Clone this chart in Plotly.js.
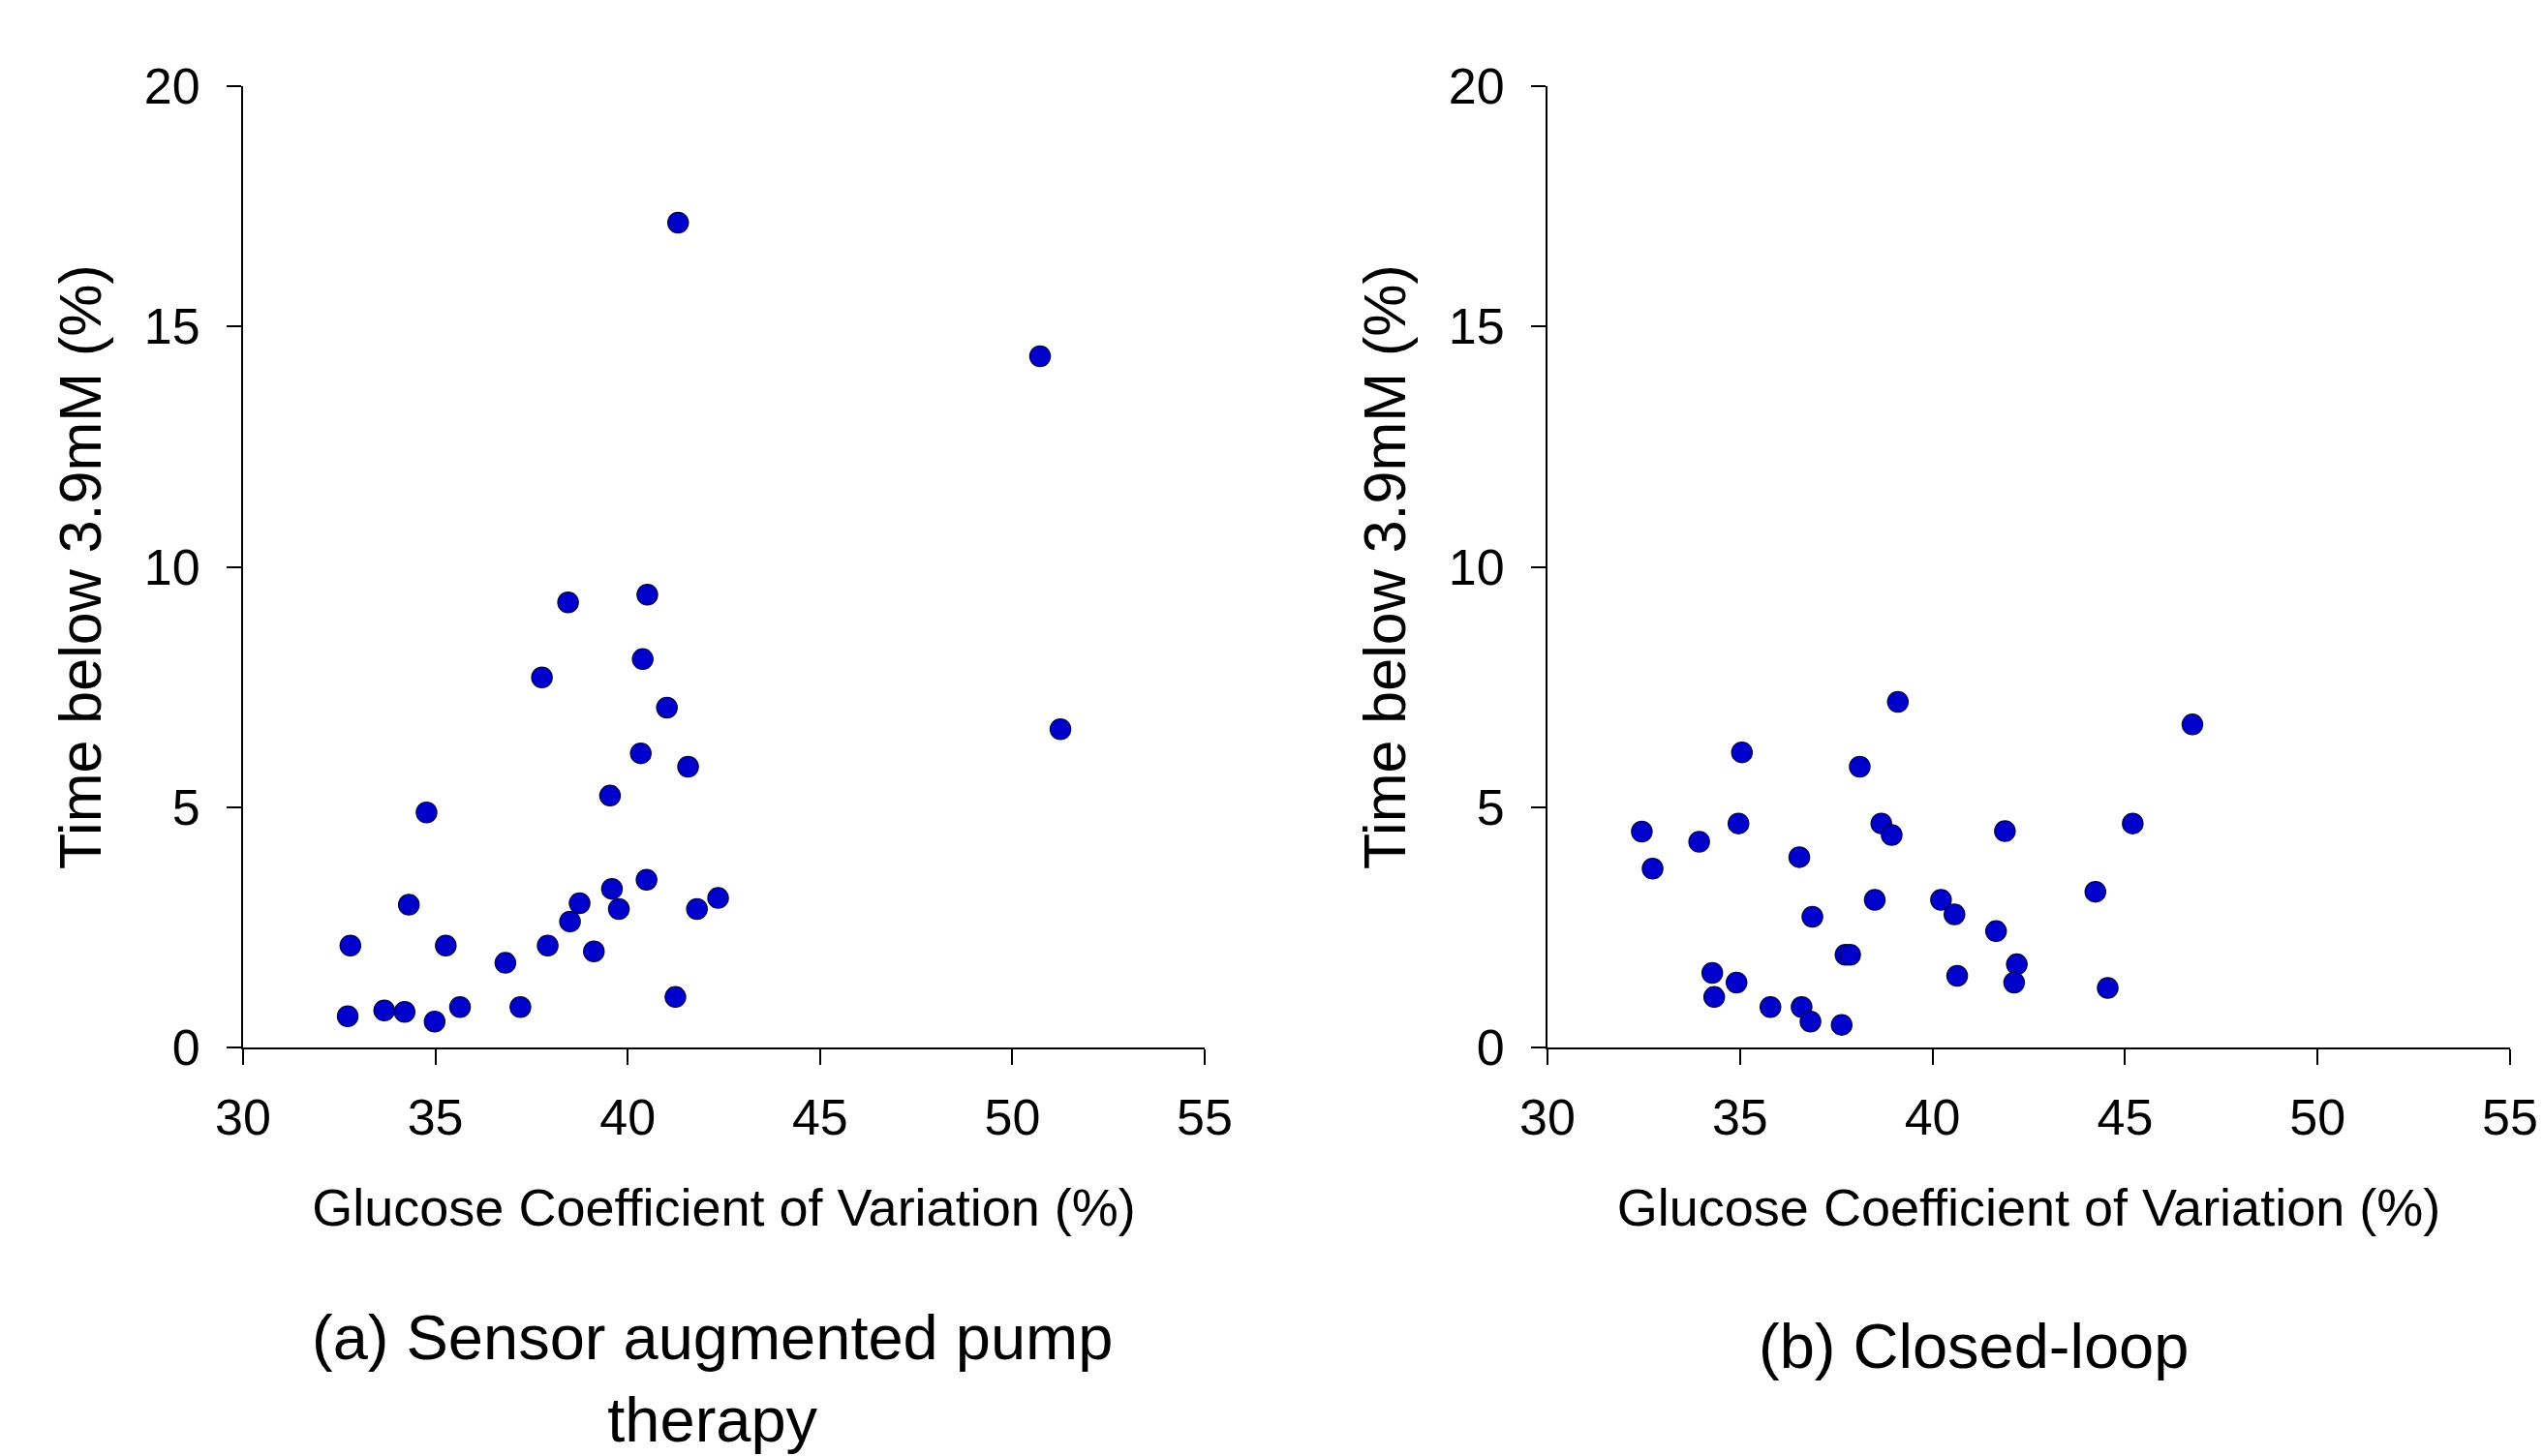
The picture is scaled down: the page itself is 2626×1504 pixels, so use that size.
<!DOCTYPE html>
<html>
<head>
<meta charset="utf-8">
<script src="https://cdn.plot.ly/plotly-3.0.1.min.js"></script>
<style>
  html, body { margin: 0; padding: 0; background: #ffffff; }
  #chart { width: 2626px; height: 1504px; }
</style>
</head>
<body>
<div id="chart"></div>
<script>
// Panel (a): Sensor augmented pump therapy
const sapCV  = [41.31, 50.72, 51.25, 38.45, 40.51, 37.77, 40.39, 41.02, 40.34, 41.57,
                39.54, 34.77, 34.31, 32.79, 35.27, 32.72, 33.67, 34.20, 34.98, 35.64,
                36.82, 37.21, 37.92, 38.50, 38.75, 39.12, 39.59, 39.77, 40.49, 41.24,
                41.80, 42.35];
const sapTBR = [17.16, 14.38, 6.62, 9.26, 9.42, 7.70, 8.08, 7.07, 6.12, 5.84,
                5.24, 4.89, 2.97, 2.12, 2.12, 0.65, 0.77, 0.74, 0.54, 0.84,
                1.76, 0.84, 2.12, 2.62, 3.00, 2.00, 3.30, 2.88, 3.49, 1.05,
                2.88, 3.11];

// Panel (b): Closed-loop
const clCV  = [39.10, 46.75, 35.05, 38.11, 32.45, 32.73, 33.94, 34.96, 36.54, 38.67,
               38.94, 41.88, 45.20, 36.88, 38.50, 40.22, 40.57, 41.65, 44.23, 34.28,
               34.33, 34.91, 35.79, 36.60, 36.83, 37.64, 37.74, 37.86, 40.64, 42.19,
               42.12, 44.55];
const clTBR = [7.19, 6.72, 6.14, 5.84, 4.49, 3.72, 4.28, 4.66, 3.96, 4.66,
               4.42, 4.50, 4.66, 2.72, 3.07, 3.07, 2.77, 2.42, 3.24, 1.55,
               1.05, 1.35, 0.84, 0.84, 0.54, 0.47, 1.93, 1.93, 1.49, 1.73,
               1.35, 1.24];

const xTickVals = [30, 35, 40, 45, 50, 55];
const yTickVals = [0, 5, 10, 15, 20];
const xTitle = 'Glucose Coefficient of Variation (%)';
const yTitle = 'Time below 3.9mM (%)';
const panelTitles = ['(a) Sensor augmented pump<br>therapy', '(b) Closed-loop'];

const FONT = '"Liberation Sans", Arial, "DejaVu Sans", sans-serif';

const marker = {
  symbol: 'circle',
  size: 21,
  color: '#0000CC',
  line: { color: '#000066', width: 1.5 }
};

const traces = [
  { type: 'scatter', mode: 'markers', x: sapCV, y: sapTBR, xaxis: 'x', yaxis: 'y',
    marker: marker, hoverinfo: 'x+y', showlegend: false },
  { type: 'scatter', mode: 'markers', x: clCV, y: clTBR, xaxis: 'x2', yaxis: 'y2',
    marker: marker, hoverinfo: 'x+y', showlegend: false }
];

function xAxis(domain, anchor) {
  return {
    domain: domain, anchor: anchor, range: [30, 55],
    tickmode: 'array', tickvals: xTickVals,
    showgrid: false, zeroline: false,
    showline: true, linecolor: '#000000', linewidth: 2,
    ticks: 'outside', ticklen: 16, tickwidth: 2, tickcolor: '#000000',
    ticklabelstandoff: 10,
    tickfont: { family: FONT, size: 52, color: '#000000' },
    title: { text: xTitle, standoff: 46, font: { family: FONT, size: 54, color: '#000000' } }
  };
}
function yAxis(domain, anchor) {
  return {
    domain: domain, anchor: anchor, range: [0, 20],
    tickmode: 'array', tickvals: yTickVals,
    showgrid: false, zeroline: false,
    showline: true, linecolor: '#000000', linewidth: 2,
    ticks: 'outside', ticklen: 15, tickwidth: 2, tickcolor: '#000000',
    ticklabelstandoff: 17,
    tickfont: { family: FONT, size: 52, color: '#000000' },
    title: { text: yTitle, standoff: 24, font: { family: FONT, size: 61, color: '#000000' } }
  };
}

const W = 2626, H = 1504;
const yDom = [(H - 1082) / H, (H - 89) / H];

const layout = {
  width: W, height: H,
  margin: { l: 0, r: 0, t: 0, b: 0, pad: 0 },
  paper_bgcolor: '#ffffff', plot_bgcolor: '#ffffff',
  font: { family: FONT, color: '#000000' },
  xaxis:  xAxis([251 / W, 1244 / W], 'y'),
  yaxis:  yAxis(yDom, 'x'),
  xaxis2: xAxis([1598 / W, 2592 / W], 'y2'),
  yaxis2: yAxis(yDom, 'x2'),
  annotations: [
    { text: panelTitles[0], xref: 'paper', yref: 'paper',
      x: 735 / W, y: (H - 1424) / H, xanchor: 'center', yanchor: 'middle',
      showarrow: false, align: 'center',
      font: { family: FONT, size: 65, color: '#000000' } },
    { text: panelTitles[1], xref: 'paper', yref: 'paper',
      x: 2038 / W, y: (H - 1390) / H, xanchor: 'center', yanchor: 'middle',
      showarrow: false, align: 'center',
      font: { family: FONT, size: 65, color: '#000000' } }
  ]
};

Plotly.newPlot('chart', traces, layout, { displayModeBar: false, staticPlot: true });
</script>
</body>
</html>
